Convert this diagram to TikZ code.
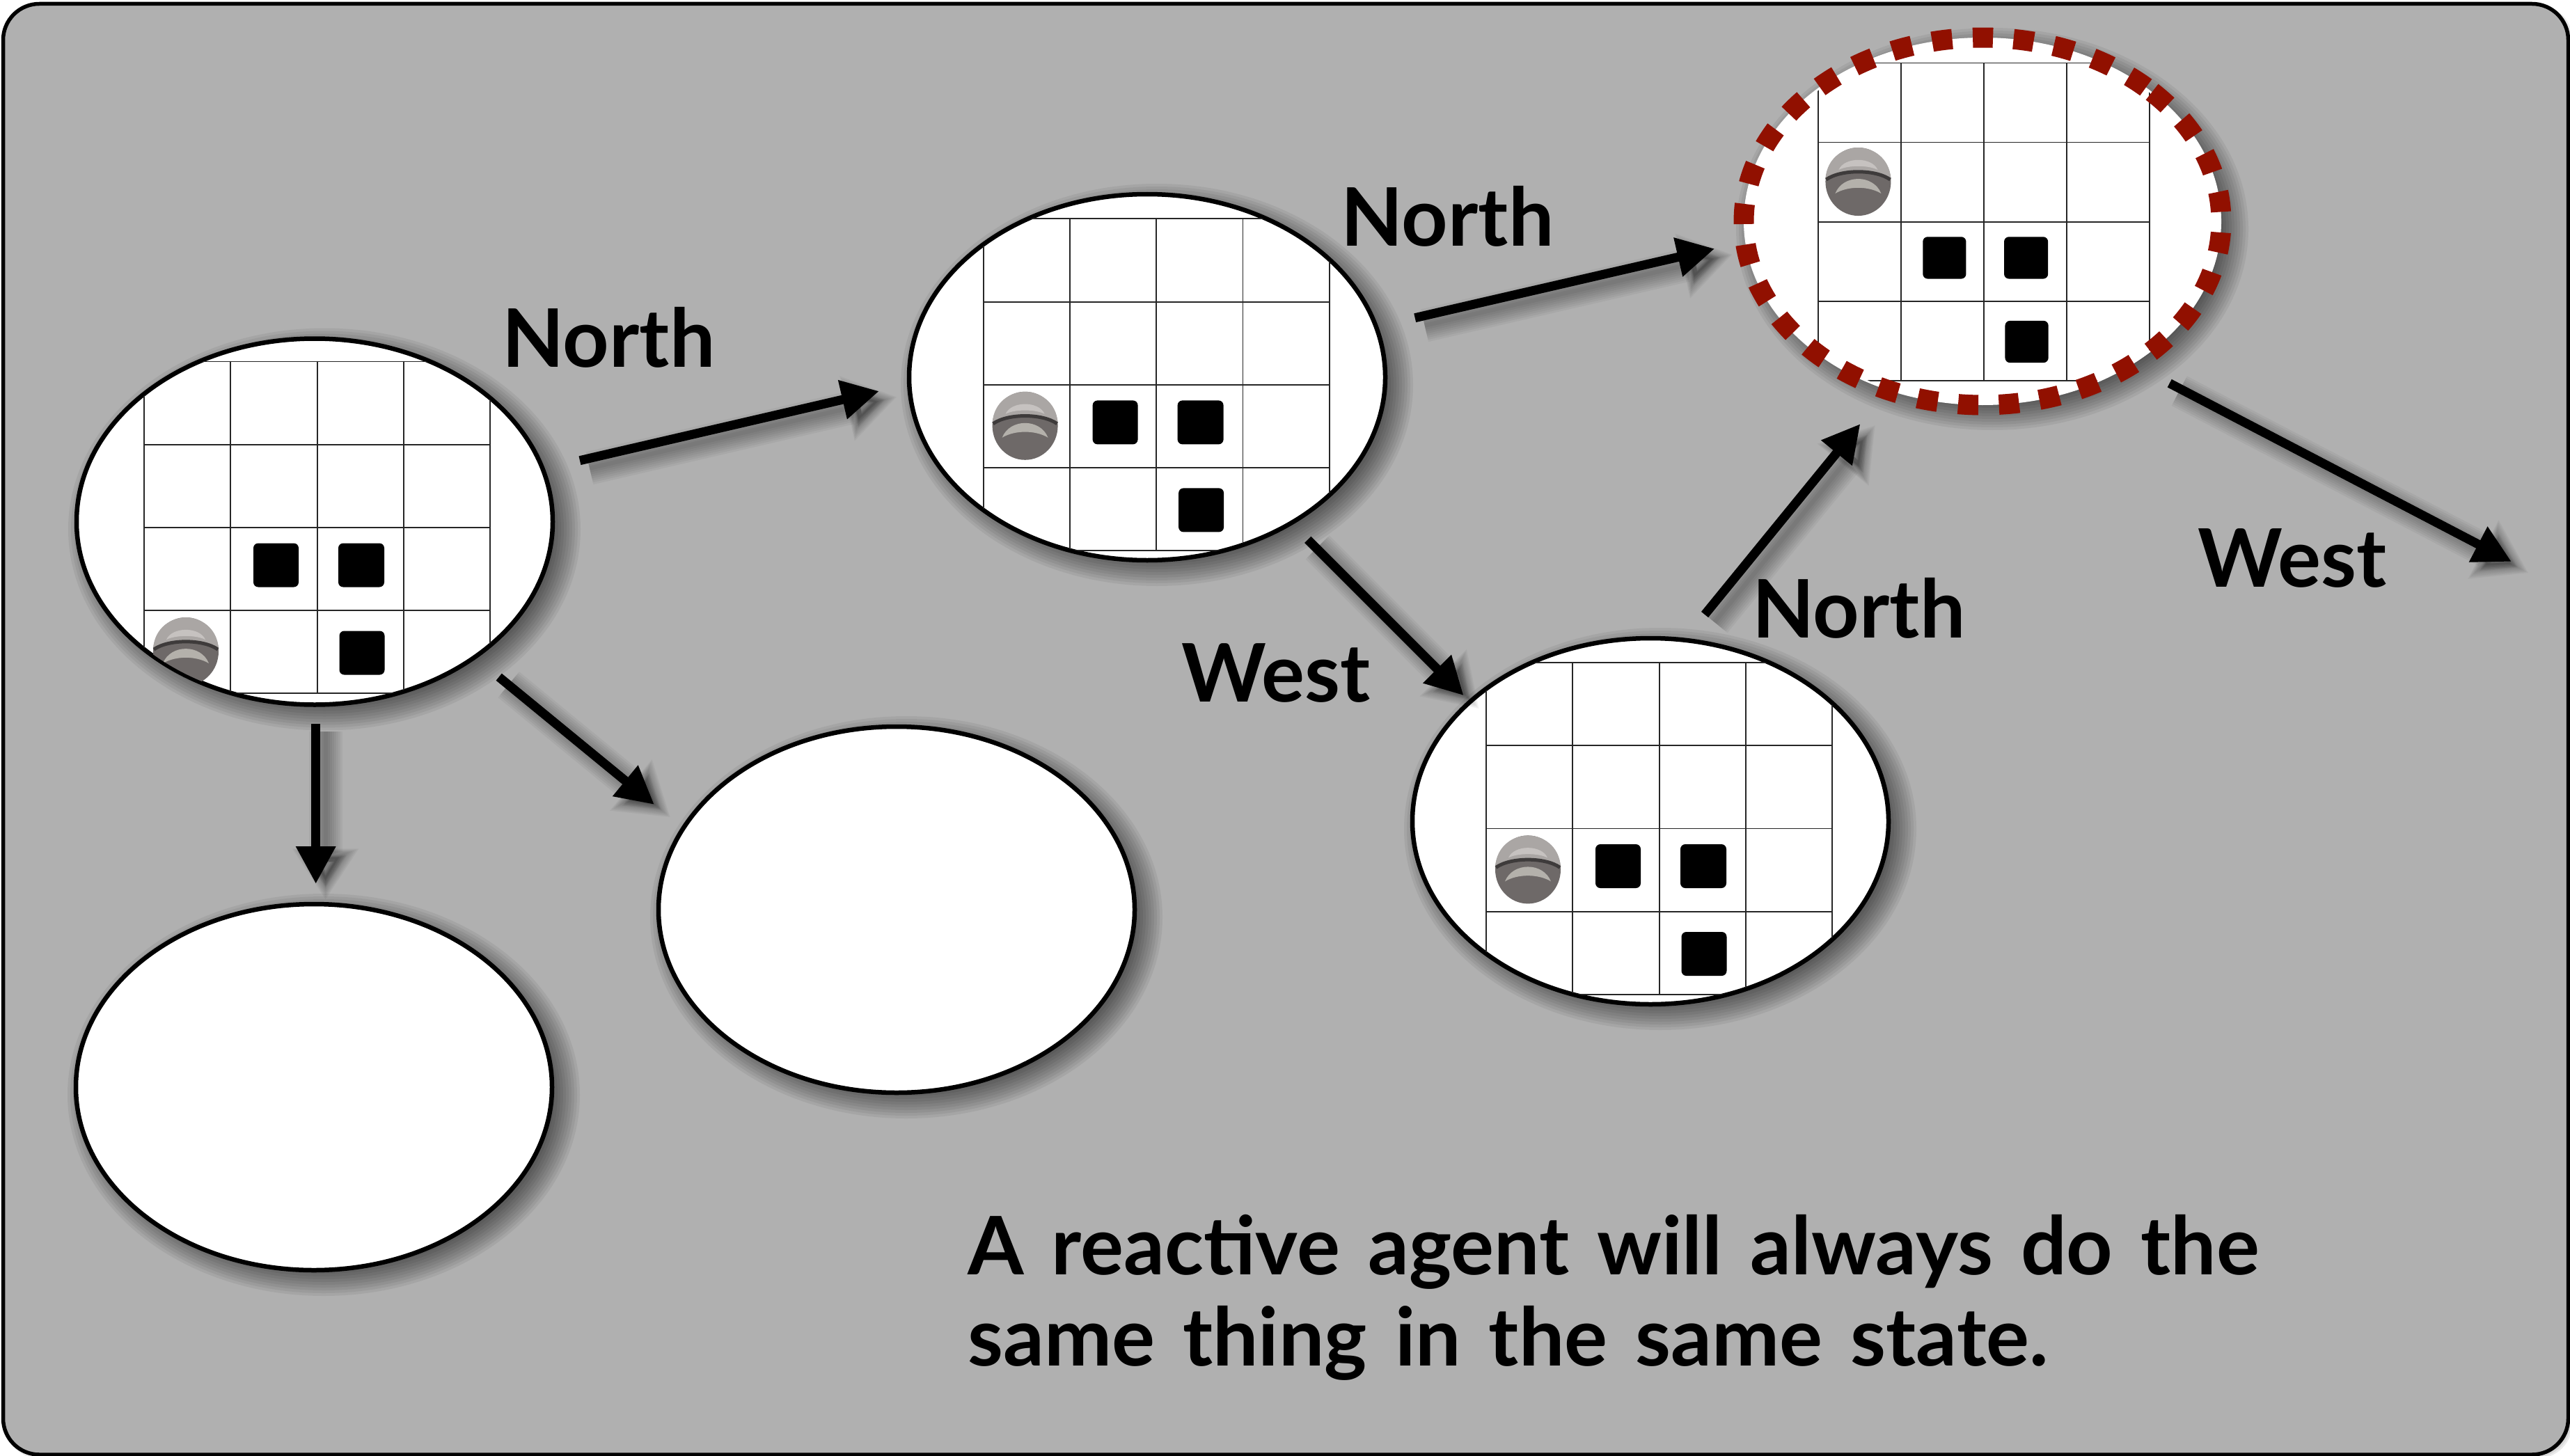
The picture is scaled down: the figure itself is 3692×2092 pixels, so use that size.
\documentclass[tikz,border=0pt]{standalone}
\usepackage{fontspec}
\setmainfont{Lato}
\newfontfamily\remarkfont{Lato}[WordSpace=1.42]
\usetikzlibrary{calc,shapes.geometric,arrows.meta}

\definecolor{panelgray}{RGB}{176,176,176}
\definecolor{ringred}{RGB}{145,16,0}
\definecolor{botdark}{RGB}{110,105,104}
\definecolor{botdome}{RGB}{170,166,164}
\definecolor{botlight}{RGB}{198,194,192}
\definecolor{botkeys}{RGB}{180,177,171}
\definecolor{botband}{RGB}{62,59,59}

\tikzset{
  panel/.style={draw=black,line width=5.5pt,fill=panelgray,rounded corners=52pt},
  statenode/.style={ellipse,draw=black,line width=6.5pt,fill=white,minimum width=684pt,minimum height=526pt,inner sep=0pt,outer sep=0pt},
  ringnode/.style={statenode,draw=none,minimum width=686pt,minimum height=528pt},
  ringdash/.style={draw=ringred,line width=29pt,dash pattern=on 29pt off 29.6pt},
  gridline/.style={draw=black!85,line width=1.8pt},
  boxcell/.style={fill=black,rounded corners=7pt},
  flowline/.style={line width=13pt,-{Triangle[length=54pt,width=54pt]}},
  saying/.style={font=\bfseries\fontsize{116}{131}\selectfont,inner sep=0pt,anchor=base west,align=left},
  botpic/.pic={
    \fill[botdark] (0,0) ellipse [x radius=47,y radius=49];
    \fill[botdome] (-47,4) .. controls (-45,35) and (-20,49) .. (0,49) .. controls (20,49) and (45,35) .. (47,4) .. controls (25,18) and (-25,18) .. cycle;
    \fill[botlight] (-28,17) .. controls (-20,36) and (20,36) .. (28,17) .. controls (15,24) and (-15,24) .. cycle;
    \draw[botband,line width=5pt] (-46,3) .. controls (-25,18) and (25,18) .. (46,3);
    \fill[botkeys] (-33,-17) .. controls (-22,11) and (22,11) .. (33,-17) .. controls (15,-6) and (-15,-6) .. cycle;
  }
}

% name, x, y, style
\newcommand{\softstate}[4]{
  \foreach \d in {-26,-22,...,28}
    \fill[black,opacity=.06] (#2+14,#3-11) ellipse [x radius=342+\d,y radius=263+\d];
  \node[#4] (#1) at (#2,#3) {};
}
% node, grid corner from node, scale, row of the robot
\newcommand{\stategrid}[4]{
  \begin{scope}
    \clip (#1) ellipse [x radius=340,y radius=261];
    \begin{scope}[shift={($(#1)+(#2)$)},scale=#3]
      \foreach \i in {0,...,4} {
        \draw[gridline] (\i*124.3,0) -- (\i*124.3,-476.8);
        \draw[gridline] (0,-\i*119.2) -- (497.2,-\i*119.2);
      }
      \fill[boxcell] (157,-261) rectangle (222,-324);
      \fill[boxcell] (279,-261) rectangle (345,-324);
      \fill[boxcell] (280.5,-387) rectangle (345.5,-450);
      \pic at (60,-#4*119.2-59) {botpic};
    \end{scope}
  \end{scope}
}
% from, to
\newcommand{\flowarrow}[2]{
  \foreach \w [evaluate=\w as \tw using \w+42,evaluate=\w as \tl using 40+\w*.7,evaluate=\w as \ts using 12-\w*.5] in {6,12,18,24,30,36,42,48}
    \draw[black,opacity=.045,line width=\w pt,shorten >=\ts pt,-{Triangle[length=\tl pt,width=\tw pt]},transform canvas={shift={(14pt,-11pt)}}] (#1) -- (#2);
  \draw[flowline] (#1) -- (#2);
}

\begin{document}
\begin{tikzpicture}[x=1pt,y=1pt]
\useasboundingbox (0,0) rectangle (3692,-2092);
\foreach \d in {0,2,...,10}
  \fill[black,opacity=.08,rounded corners=52pt] (16-\d,-16+\d) rectangle (3692+\d-6,-2092-\d+6);
\draw[panel] (4.5,-5.5) rectangle (3689.5,-2090);

\softstate{start}{452}{-749.5}{statenode}
\softstate{northstate}{1648}{-542}{statenode}
\softstate{weststate}{2371}{-1180}{statenode}
\softstate{southstate}{451}{-1562}{statenode}
\softstate{eaststate}{1288}{-1307}{statenode}
\softstate{repeated}{2848}{-318}{ringnode}

\stategrid{start}{-245,230}{1}{3}
\stategrid{northstate}{-235.4,227.6}{1}{2}
\stategrid{weststate}{-236,228}{1}{2}
\stategrid{repeated}{-236,227.5}{.957}{1}
\draw[ringdash] ($(repeated)+(44.75:343 and 264)$) arc [start angle=44.75,end angle=-315.25,x radius=343,y radius=264];

\coordinate (away) at (3608,-807);

\flowarrow{[shift={(381,87.8)}]start.center}{[shift={(-385,-20)}]northstate.center}
\flowarrow{[shift={(384.7,85.3)}]northstate.center}{[shift={(-384.7,-39.3)}]repeated.center}
\flowarrow{[shift={(230.7,-233.3)}]northstate.center}{[shift={(-268.3,180.7)}]weststate.center}
\flowarrow{[shift={(78,297)}]weststate.center}{[shift={(-175.5,-291)}]repeated.center}
\flowarrow{[shift={(268.7,-232.7)}]repeated.center}{away}
\flowarrow{[shift={(1.7,-290.5)}]start.center}{[shift={(2.7,292)}]southstate.center}
\flowarrow{[shift={(264.7,-223.2)}]start.center}{[shift={(-348,151)}]eaststate.center}

\node[saying] (northa) at (721,-527) {North};
\node[saying] (northb) at (1926,-353) {North};
\node[saying] (northc) at (2517,-916) {North};
\node[saying] (westa) at (1697,-1008) {West};
\node[saying] (westb) at (3157,-843) {West};
\node[saying,font=\remarkfont\bfseries\fontsize{116}{131}\selectfont] (remark) at (1390,-1962) {A reactive agent will always do the\\same thing in the same state.};
\end{tikzpicture}
\end{document}
